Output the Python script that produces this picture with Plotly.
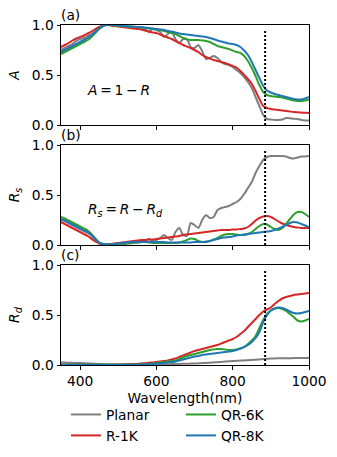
import plotly.graph_objects as go
from plotly.subplots import make_subplots

# ------------------------------------------------------
# DATA
# ------------------------------------------------------
wavelength = list(range(350, 1001, 10))
cutoff_wl = 885

names = ["Planar", "R-1K", "QR-6K", "QR-8K"]
colors = ["#7f7f7f", "#d62728", "#2ca02c", "#1f77b4"]

# (a) absorption A = 1 - R
a_planar = [0.75, 0.77, 0.79, 0.81, 0.84, 0.86, 0.87, 0.89, 0.91, 0.94,
            0.97, 0.99, 1.00, 1.00, 0.995, 0.99, 0.99, 0.985, 0.98, 0.98,
            0.975, 0.975, 0.96, 0.93, 0.96, 0.95, 0.93, 0.88, 0.91, 0.93,
            0.86, 0.82, 0.86, 0.86, 0.78, 0.77, 0.80, 0.74, 0.66, 0.67,
            0.69, 0.67, 0.63, 0.61, 0.60, 0.58, 0.55, 0.52, 0.48, 0.43,
            0.37, 0.28, 0.19, 0.10, 0.06, 0.055, 0.05, 0.05, 0.055, 0.07,
            0.068, 0.062, 0.06, 0.05, 0.045, 0.045]
a_r1k = [0.78, 0.80, 0.82, 0.845, 0.865, 0.88, 0.895, 0.915, 0.935, 0.96,
         0.98, 0.995, 1.0, 0.995, 0.99, 0.985, 0.98, 0.975, 0.97, 0.965,
         0.96, 0.955, 0.945, 0.935, 0.925, 0.92, 0.905, 0.89, 0.875, 0.86,
         0.84, 0.82, 0.80, 0.785, 0.77, 0.75, 0.73, 0.70, 0.68, 0.665,
         0.65, 0.64, 0.63, 0.62, 0.605, 0.59, 0.575, 0.54, 0.50, 0.46,
         0.41, 0.34, 0.26, 0.19, 0.17, 0.16, 0.155, 0.15, 0.145, 0.14,
         0.135, 0.13, 0.127, 0.124, 0.122, 0.12]
a_qr6k = [0.71, 0.73, 0.75, 0.77, 0.79, 0.81, 0.83, 0.85, 0.88, 0.92,
          0.96, 0.99, 1.0, 1.0, 0.995, 0.99, 0.99, 0.985, 0.985, 0.98,
          0.98, 0.975, 0.97, 0.965, 0.96, 0.955, 0.95, 0.94, 0.93, 0.92,
          0.91, 0.89, 0.87, 0.855, 0.85, 0.85, 0.85, 0.845, 0.84, 0.83,
          0.81, 0.79, 0.78, 0.77, 0.76, 0.745, 0.73, 0.72, 0.69, 0.64,
          0.57, 0.49, 0.40, 0.33, 0.30, 0.29, 0.285, 0.28, 0.275, 0.265,
          0.255, 0.245, 0.24, 0.24, 0.245, 0.255]
a_qr8k = [0.73, 0.75, 0.77, 0.79, 0.81, 0.83, 0.85, 0.87, 0.90, 0.93,
          0.965, 0.99, 1.0, 1.0, 1.0, 0.995, 0.99, 0.99, 0.985, 0.985,
          0.98, 0.98, 0.975, 0.97, 0.965, 0.96, 0.955, 0.95, 0.94, 0.935,
          0.925, 0.915, 0.91, 0.905, 0.90, 0.895, 0.89, 0.885, 0.88, 0.87,
          0.86, 0.845, 0.835, 0.825, 0.815, 0.81, 0.80, 0.78, 0.745, 0.70,
          0.63, 0.55, 0.47, 0.39, 0.345, 0.325, 0.31, 0.30, 0.29, 0.28,
          0.27, 0.26, 0.255, 0.255, 0.265, 0.28]

# (b) specular reflection Rs
rs_planar = [0.25, 0.24, 0.22, 0.20, 0.18, 0.16, 0.14, 0.12, 0.09, 0.05,
             0.02, 0.01, 0.005, 0.005, 0.005, 0.01, 0.01, 0.01, 0.015, 0.02,
             0.025, 0.03, 0.04, 0.06, 0.04, 0.05, 0.07, 0.10, 0.07, 0.05,
             0.13, 0.17, 0.10, 0.09, 0.22, 0.20, 0.17, 0.25, 0.30, 0.27,
             0.28, 0.35, 0.37, 0.38, 0.39, 0.41, 0.43, 0.46, 0.51, 0.57,
             0.63, 0.72, 0.79, 0.85, 0.88, 0.89, 0.89, 0.89, 0.89, 0.885,
             0.87, 0.865, 0.875, 0.885, 0.885, 0.89]
rs_r1k = [0.23, 0.21, 0.19, 0.17, 0.15, 0.13, 0.11, 0.09, 0.06, 0.035,
          0.015, 0.005, 0.005, 0.01, 0.015, 0.02, 0.025, 0.03, 0.035, 0.04,
          0.045, 0.05, 0.05, 0.055, 0.055, 0.06, 0.065, 0.07, 0.075, 0.08,
          0.085, 0.09, 0.10, 0.105, 0.11, 0.115, 0.12, 0.125, 0.13, 0.135,
          0.14, 0.145, 0.15, 0.15, 0.15, 0.155, 0.155, 0.16, 0.165, 0.18,
          0.21, 0.245, 0.27, 0.285, 0.29, 0.28, 0.26, 0.235, 0.215, 0.20,
          0.19, 0.18, 0.175, 0.17, 0.17, 0.17]
rs_qr6k = [0.28, 0.265, 0.245, 0.225, 0.205, 0.185, 0.165, 0.145, 0.11, 0.065,
           0.025, 0.01, 0.005, 0.005, 0.01, 0.01, 0.015, 0.02, 0.02, 0.025,
           0.025, 0.03, 0.03, 0.025, 0.02, 0.02, 0.02, 0.02, 0.02, 0.02,
           0.02, 0.025, 0.035, 0.05, 0.065, 0.06, 0.04, 0.03, 0.03, 0.04,
           0.055, 0.07, 0.09, 0.105, 0.11, 0.11, 0.105, 0.10, 0.10, 0.11,
           0.13, 0.16, 0.19, 0.21, 0.205, 0.18, 0.16, 0.15, 0.17, 0.21,
           0.26, 0.305, 0.33, 0.33, 0.31, 0.28]
rs_qr8k = [0.26, 0.245, 0.225, 0.205, 0.185, 0.165, 0.145, 0.13, 0.10, 0.06,
           0.025, 0.01, 0.005, 0.005, 0.01, 0.015, 0.02, 0.025, 0.03, 0.03,
           0.03, 0.03, 0.03, 0.03, 0.03, 0.03, 0.03, 0.03, 0.025, 0.025,
           0.025, 0.025, 0.025, 0.025, 0.025, 0.03, 0.03, 0.03, 0.035, 0.04,
           0.05, 0.06, 0.07, 0.075, 0.08, 0.085, 0.095, 0.10, 0.105, 0.11,
           0.115, 0.12, 0.125, 0.13, 0.135, 0.14, 0.15, 0.165, 0.18, 0.20,
           0.22, 0.23, 0.225, 0.21, 0.195, 0.18]

# (c) diffuse reflection Rd
rd_planar = [0.025, 0.024, 0.023, 0.022, 0.02, 0.02, 0.018, 0.016, 0.014, 0.012,
             0.01, 0.008, 0.007, 0.006, 0.005, 0.005, 0.005, 0.005, 0.005, 0.005,
             0.005, 0.005, 0.005, 0.005, 0.005, 0.006, 0.006, 0.007, 0.008, 0.009,
             0.01, 0.011, 0.012, 0.013, 0.014, 0.015, 0.017, 0.019, 0.021, 0.023,
             0.025, 0.028, 0.031, 0.034, 0.037, 0.04, 0.042, 0.044, 0.046, 0.048,
             0.05, 0.053, 0.056, 0.059, 0.062, 0.065, 0.066, 0.067, 0.067, 0.068,
             0.068, 0.069, 0.069, 0.07, 0.07, 0.07]
rd_r1k = [0.002, 0.002, 0.002, 0.002, 0.002, 0.002, 0.002, 0.002, 0.002, 0.002,
          0.002, 0.002, 0.002, 0.002, 0.002, 0.002, 0.004, 0.006, 0.008, 0.01,
          0.012, 0.015, 0.018, 0.022, 0.026, 0.03, 0.035, 0.04, 0.045, 0.055,
          0.065, 0.08, 0.095, 0.11, 0.125, 0.14, 0.15, 0.16, 0.17, 0.18,
          0.19, 0.20, 0.215, 0.23, 0.245, 0.26, 0.28, 0.31, 0.34, 0.38,
          0.42, 0.46, 0.50, 0.535, 0.555, 0.575, 0.61, 0.64, 0.665, 0.68,
          0.69, 0.70, 0.705, 0.71, 0.715, 0.72]
rd_qr6k = [0.002, 0.002, 0.002, 0.002, 0.002, 0.002, 0.002, 0.002, 0.002, 0.002,
           0.002, 0.002, 0.002, 0.002, 0.002, 0.002, 0.002, 0.002, 0.002, 0.002,
           0.005, 0.007, 0.009, 0.012, 0.015, 0.02, 0.025, 0.03, 0.035, 0.04,
           0.045, 0.06, 0.075, 0.09, 0.10, 0.11, 0.12, 0.13, 0.14, 0.15,
           0.155, 0.16, 0.16, 0.155, 0.15, 0.15, 0.155, 0.165, 0.18, 0.21,
           0.245, 0.29, 0.37, 0.45, 0.51, 0.545, 0.565, 0.57, 0.56, 0.54,
           0.51, 0.48, 0.445, 0.435, 0.445, 0.46]
rd_qr8k = [0.002, 0.002, 0.002, 0.002, 0.002, 0.002, 0.002, 0.002, 0.002, 0.002,
           0.002, 0.002, 0.002, 0.002, 0.002, 0.002, 0.002, 0.002, 0.002, 0.002,
           0.002, 0.004, 0.006, 0.008, 0.01, 0.015, 0.018, 0.02, 0.025, 0.03,
           0.035, 0.045, 0.055, 0.065, 0.075, 0.085, 0.09, 0.10, 0.105, 0.11,
           0.115, 0.12, 0.125, 0.13, 0.135, 0.14, 0.15, 0.165, 0.18, 0.20,
           0.23, 0.27, 0.33, 0.43, 0.50, 0.545, 0.565, 0.575, 0.57, 0.555,
           0.535, 0.52, 0.515, 0.52, 0.53, 0.54]

panels = [
    [a_planar, a_r1k, a_qr6k, a_qr8k],
    [rs_planar, rs_r1k, rs_qr6k, rs_qr8k],
    [rd_planar, rd_r1k, rd_qr6k, rd_qr8k],
]
panel_labels = ["(a)", "(b)", "(c)"]
y_titles = ["<i>A</i>", "<i>R<sub>s</sub></i>", "<i>R<sub>d</sub></i>"]
legend_rank = [1, 3, 2, 4]   # column-wise legend: Planar, R-1K | QR-6K, QR-8K

FONT = "DejaVu Sans"
FS = 13.8
TS = "\u2009"  # thin space, like mathtext operator spacing

# ------------------------------------------------------
# FIGURE
# ------------------------------------------------------
fig = make_subplots(rows=3, cols=1, shared_xaxes=True, vertical_spacing=20 / 340)

for r, series in enumerate(panels, start=1):
    for i, y in enumerate(series):
        fig.add_trace(go.Scatter(
            x=wavelength, y=y, mode="lines", name=names[i],
            line=dict(color=colors[i], width=2, shape="spline", smoothing=0.6),
            showlegend=(r == 1), legendrank=legend_rank[i],
        ), row=r, col=1)
    # cutoff marker
    fig.add_trace(go.Scatter(
        x=[cutoff_wl, cutoff_wl], y=[0, 0.96], mode="lines",
        line=dict(color="black", width=2, dash="2px,2px"),
        showlegend=False, hoverinfo="skip",
    ), row=r, col=1)

axis_common = dict(
    showline=True, linecolor="black", linewidth=1, mirror=True,
    ticks="outside", ticklen=3.5, tickwidth=1, tickcolor="black",
    showgrid=False, zeroline=False, automargin=False,
    tickfont=dict(family=FONT, size=FS, color="black"),
)
for r in range(1, 4):
    fig.update_xaxes(range=[350, 1000], tickvals=[400, 600, 800, 1000],
                     showticklabels=(r == 3), row=r, col=1, **axis_common)
    fig.update_yaxes(range=[0, 1], tickvals=[0, 0.5, 1.0],
                     ticktext=["0.0", "0.5", "1.0"],
                     title=dict(text=y_titles[r - 1], standoff=8,
                                font=dict(family=FONT, size=FS, color="black")),
                     row=r, col=1, **axis_common)
fig.update_xaxes(title=dict(text="Wavelength(nm)", standoff=5,
                            font=dict(family=FONT, size=FS, color="black")),
                 row=3, col=1)

# panel labels
for r, lab in enumerate(panel_labels, start=1):
    xa = "x" if r == 1 else f"x{r}"
    ya = "y" if r == 1 else f"y{r}"
    fig.add_annotation(text=lab, xref=f"{xa} domain", yref=f"{ya} domain",
                       x=-0.01, y=1.0, xanchor="left", yanchor="bottom",
                       showarrow=False, font=dict(family=FONT, size=FS, color="black"))

fig.add_annotation(text=f"<i>A</i>{TS}={TS}1{TS}−{TS}<i>R</i>", xref="x", yref="y",
                   x=413, y=0.35, xanchor="left", yanchor="middle", showarrow=False,
                   font=dict(family=FONT, size=FS, color="black"))
fig.add_annotation(text=f"<i>R<sub>s</sub></i>{TS}={TS}<i>R</i>{TS}−{TS}<i>R<sub>d</sub></i>",
                   xref="x2", yref="y2",
                   x=415, y=0.35, xanchor="left", yanchor="middle", showarrow=False,
                   font=dict(family=FONT, size=FS, color="black"))

fig.update_layout(
    width=337, height=457,
    margin=dict(l=61, r=28, t=25, b=92, autoexpand=False),
    plot_bgcolor="white", paper_bgcolor="white",
    font=dict(family=FONT, size=FS, color="black"),
    legend=dict(orientation="h", x=0.02, xanchor="left", y=-0.1, yanchor="top",
                entrywidth=70, font=dict(family=FONT, size=FS, color="black"),
                bgcolor="rgba(0,0,0,0)", tracegroupgap=0),
)

fig.write_html("out.html", config={"displayModeBar": False},
               post_script="document.body.style.margin='0';")
